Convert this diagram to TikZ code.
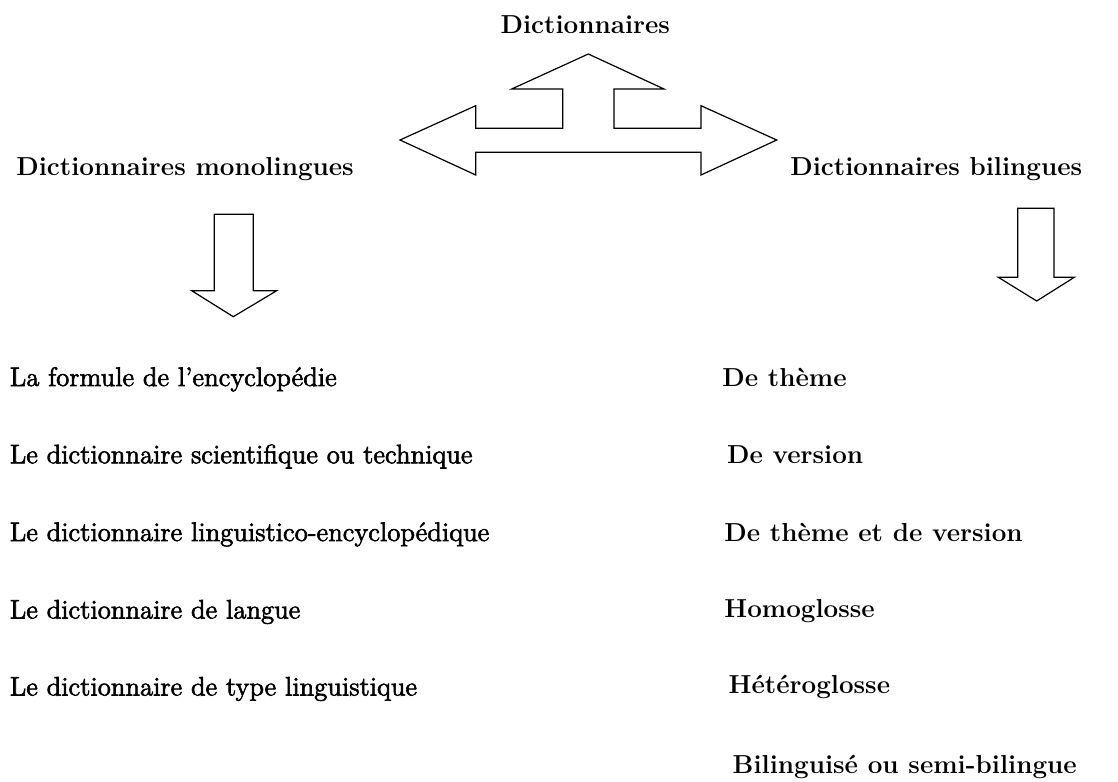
\documentclass[tikz,border=0pt]{standalone}
\usepackage{tikz}
\usetikzlibrary{arrows.meta}
\newcommand{\grasfaux}[1]{\special{pdf:literal direct 2 Tr 0.3 w}#1\special{pdf:literal direct 0 Tr}}
\tikzset{>=stealth}
\tikzset{%
    titre/.style={inner sep=0pt, anchor=base west, font=\fontsize{13}{15}\selectfont\bfseries},
    gauche/.style={inner sep=0pt, anchor=base west, font=\fontsize{13.4}{16}\selectfont},
    droite/.style={inner sep=0pt, anchor=base west, font=\fontsize{13}{15}\selectfont\bfseries},
    fleche/.style={draw=black, line width=0.6pt, line join=miter, fill=white}
}

\begin{document}
\begin{tikzpicture}[x=0.5pt,y=-0.5pt]
    \useasboundingbox (0,0) rectangle (1118,781);

    % three-way arrow
    \draw[fleche] (588.3,54) -- (664,89) -- (614,89) -- (614,128.3) -- (701,128.3)
        -- (701,105.7) -- (776.7,140) -- (701,175) -- (701,152.3) -- (475.7,152.3)
        -- (475.7,175) -- (400,140) -- (475.7,105.7) -- (475.7,128.3) -- (562.7,128.3)
        -- (562.7,89) -- (511.7,89) -- cycle;

    % down arrows
    \draw[fleche] (214.3,214.3) -- (253.3,214.3) -- (253.3,290.7) -- (276.7,290.7)
        -- (233.3,316.7) -- (191.7,290.7) -- (214.3,290.7) -- cycle;
    \draw[fleche] (1017.7,208.3) -- (1054,208.3) -- (1054,277.3) -- (1074.3,277.3)
        -- (1036.7,301) -- (998.3,277.3) -- (1017.7,277.3) -- cycle;

    \node[titre, anchor=base] (dict) at (585.3,33.3) {Dictionnaires};
    \node[titre] (mono) at (16,175) {Dictionnaires monolingues};
    \node[titre] (bili) at (790,175.5) {Dictionnaires bilingues};

    \node[gauche] (m1) at (9.5,386) {\grasfaux{La formule de l'encyclop\'edie}};
    \node[gauche] (m2) at (9.5,463.3) {\grasfaux{Le dictionnaire scientifique ou technique}};
    \node[gauche] (m3) at (9.5,541) {\grasfaux{Le dictionnaire linguistico-encyclop\'edique}};
    \node[gauche] (m4) at (9.5,618.5) {\grasfaux{Le dictionnaire de langue}};
    \node[gauche] (m5) at (9.5,695.5) {\grasfaux{Le dictionnaire de type linguistique}};

    \node[droite] (b1) at (722,386) {De th\`eme};
    \node[droite] (b2) at (726.7,463.3) {De version};
    \node[droite] (b3) at (724,541) {De th\`eme et de version};
    \node[droite] (b4) at (724,617) {Homoglosse};
    \node[droite] (b5) at (728.3,693.3) {H\'et\'eroglosse};
    \node[droite] (b6) at (732.3,773.3) {Bilinguis\'e ou semi-bilingue};

\end{tikzpicture}
\end{document}
